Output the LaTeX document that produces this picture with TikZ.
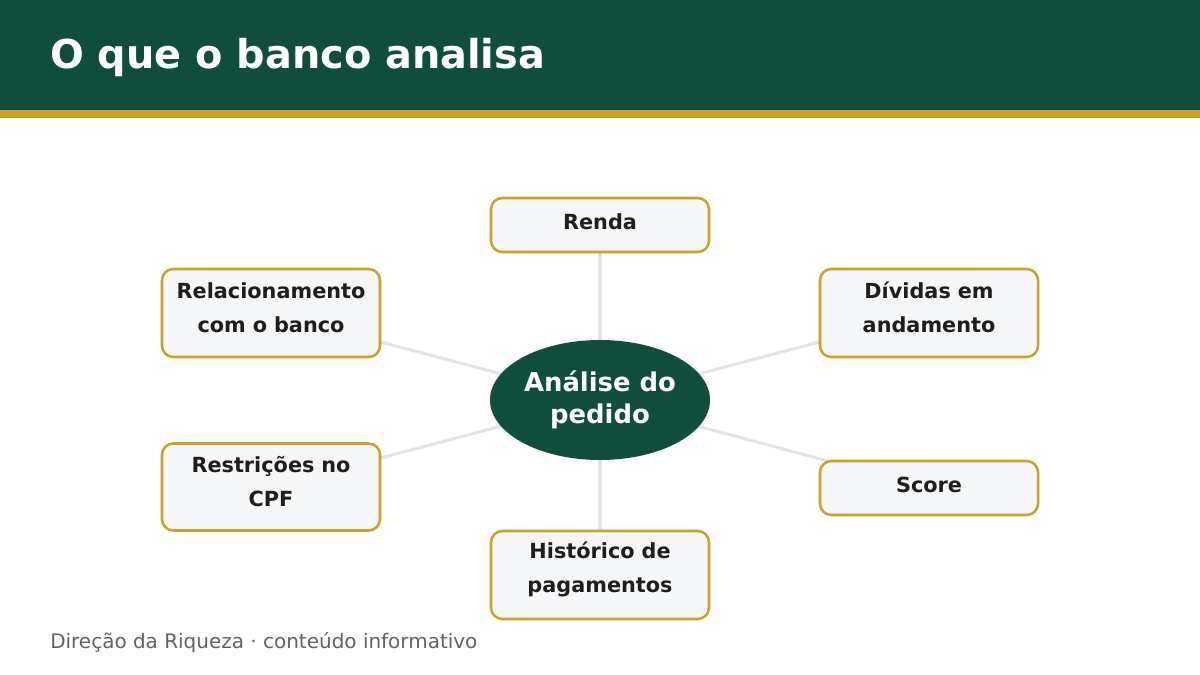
\documentclass[tikz,border=0pt]{standalone}
\usepackage{fontspec}
\setmainfont{DejaVu Sans}
\usetikzlibrary{shapes.geometric,backgrounds}
\definecolor{bancoverde}{HTML}{0F4D3C}
\definecolor{bancoouro}{HTML}{C9A227}
\definecolor{caixafundo}{HTML}{F5F7F9}
\definecolor{linhacinza}{HTML}{E1E4E7}
\definecolor{textoescuro}{HTML}{1E1E1E}
\definecolor{rodape}{HTML}{5F6368}
\newcommand{\subir}[2][4pt]{\raisebox{#1}[\height][\depth]{\parbox{5.25cm}{\centering #2}}}
\tikzset{
  caixa/.style = {draw=bancoouro,line width=1.8pt,fill=caixafundo,rounded corners=8pt,
    minimum width=218*0.025cm,text width=210*0.025cm,align=center,
    font=\fontsize{14.8}{24}\selectfont\bfseries,text=textoescuro,inner sep=0pt},
  ligacao/.style = {linhacinza,line width=2.2pt}
}
\begin{document}
\begin{tikzpicture}[x=0.025cm,y=-0.025cm]
\useasboundingbox (0,0) rectangle (1200,675);
\fill[bancoverde] (0,0) rectangle (1200,110);
\fill[bancoouro] (0,110) rectangle (1200,118);
\node[anchor=base west,white,font=\fontsize{28.3}{30}\selectfont\bfseries,inner sep=0pt] (titulo) at (50,69) {O que o banco analisa};

\node[ellipse,fill=bancoverde,minimum width=220*0.025cm,minimum height=120*0.025cm,inner sep=0pt,
  align=center,text=white,font=\fontsize{18.4}{23}\selectfont\bfseries] (centro) at (600,400) {Análise do\\pedido};

\node[caixa,minimum height=54*0.025cm] (renda) at (600,225) {\subir[2pt]{Renda}};
\node[caixa,minimum height=88*0.025cm] (relac) at (271,313) {\subir{Relacionamento\\com o banco}};
\node[caixa,minimum height=88*0.025cm] (dividas) at (929,313) {\subir{Dívidas em\\andamento}};
\node[caixa,minimum height=87*0.025cm] (restr) at (271,487) {\subir{Restrições no\\CPF}};
\node[caixa,minimum height=54*0.025cm] (score) at (929,488) {\subir[2pt]{Score}};
\node[caixa,minimum height=88*0.025cm] (hist) at (600,575) {\subir{Histórico de\\pagamentos}};

\begin{scope}[on background layer]
\foreach \alvo in {renda,relac,dividas,restr,score,hist}
  \draw[ligacao] (centro.center) -- (\alvo.center);
\end{scope}

\node[anchor=base west,text=rodape,font=\fontsize{14.2}{16}\selectfont,inner sep=0pt] (nota) at (50,648) {Direção da Riqueza · conteúdo informativo};
\end{tikzpicture}
\end{document}
